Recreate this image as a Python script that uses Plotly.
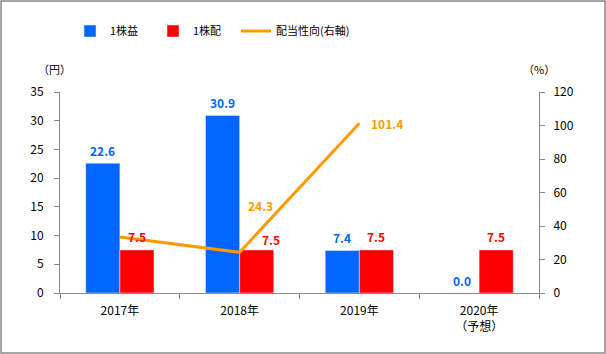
import plotly.graph_objects as go

categories = ["2017年", "2018年", "2019年", "2020年<br>（予想）"]
eps = [22.6, 30.9, 7.4, 0.0]
dps = [7.5, 7.5, 7.5, 7.5]
payout_cats = ["2017年", "2018年", "2019年"]
payout = [33.5, 24.3, 101.4]
payout_labels = ["", "24.3", "101.4"]

BLUE = "#0066FF"
RED = "#FF0000"
ORANGE = "#FF9900"
FONT = "Noto Sans CJK JP"

W, H = 606, 354
L, R, T, B = 60, 67, 92, 61
pw, ph = W - L - R, H - T - B
BARGAP = 0.43
bar_px = pw / len(categories) * (1 - BARGAP) / 2

fig = go.Figure()
fig.add_trace(go.Bar(x=categories, y=eps, name="1株益", marker_color=BLUE))
fig.add_trace(go.Bar(x=categories, y=dps, name="1株配", marker_color=RED))
fig.add_trace(go.Scatter(
    x=payout_cats, y=payout, name="配当性向(右軸)", yaxis="y2",
    mode="lines", line=dict(color=ORANGE, width=3),
))
# spacer entry so the last legend label is not clipped
fig.add_trace(go.Scatter(
    x=[None], y=[None], name=" ", mode="lines",
    line=dict(color="rgba(0,0,0,0)", width=0), hoverinfo="skip",
))

# bar value labels
for i, (c, v) in enumerate(zip(categories, eps)):
    fig.add_annotation(x=c, y=v, text=f"<b>{v:.1f}</b>", showarrow=False,
                       xshift=-bar_px / 2, yshift=13, yanchor="middle",
                       font=dict(color=BLUE, size=12, family=FONT))
for i, (c, v) in enumerate(zip(categories, dps)):
    extra = 14 if i == 1 else 0
    fig.add_annotation(x=c, y=v, text=f"<b>{v:.1f}</b>", showarrow=False,
                       xshift=bar_px / 2 + extra, yshift=13 if i != 1 else 10,
                       yanchor="middle", font=dict(color=RED, size=12, family=FONT))

for c, v, t in zip(payout_cats, payout, payout_labels):
    if t:
        fig.add_annotation(x=c, y=v, yref="y2", text=f"<b>{t}</b>", showarrow=False,
                           xanchor="left", xshift=10 if v > 50 else 6,
                           yshift=0 if v > 50 else 47,
                           font=dict(color=ORANGE, size=12, family=FONT))

def axis_common(ticklen=5, standoff=0):
    return dict(showline=True, linecolor="#888888", linewidth=1, ticks="outside",
                tickcolor="#888888", ticklen=ticklen, showgrid=False, zeroline=False,
                ticklabelstandoff=standoff,
                tickfont=dict(size=12, family=FONT, color="#000000"))

fig.update_layout(
    width=W, height=H, margin=dict(l=L, r=R, t=T, b=B),
    paper_bgcolor="white", plot_bgcolor="white",
    barmode="group", bargap=BARGAP, bargroupgap=0,
    font=dict(family=FONT, size=12, color="#000000"),
    xaxis=dict(**axis_common(5, 7), tickson="boundaries"),
    yaxis=dict(**axis_common(5, 8), range=[0, 35], dtick=5),
    yaxis2=dict(**axis_common(5, 6), range=[0, 120], dtick=20, overlaying="y", side="right"),
    legend=dict(orientation="h", x=(70 - L) / pw, y=(H - B - 31) / ph, xanchor="left",
                yanchor="middle", font=dict(size=11, family=FONT),
                entrywidth=38, itemwidth=30, tracegroupgap=0),
    showlegend=True,
)

fig.add_annotation(xref="paper", yref="paper", x=(36 - L) / pw, y=(H - B - 69) / ph,
                   yanchor="middle", text="（円）", showarrow=False,
                   font=dict(size=11, family=FONT))
fig.add_annotation(xref="paper", yref="paper", x=(557 - L) / pw, y=(H - B - 69) / ph,
                   yanchor="middle", text="（%）", showarrow=False,
                   font=dict(size=11, family=FONT))

fig.add_shape(type="rect", xref="paper", yref="paper",
              x0=(1 - L) / pw, x1=(W - 1 - L) / pw,
              y0=(H - B - (H - 1)) / ph, y1=(H - B - 1) / ph,
              line=dict(color="#888888", width=1.5), fillcolor="rgba(0,0,0,0)", layer="below")

fig.write_html("out.html")
